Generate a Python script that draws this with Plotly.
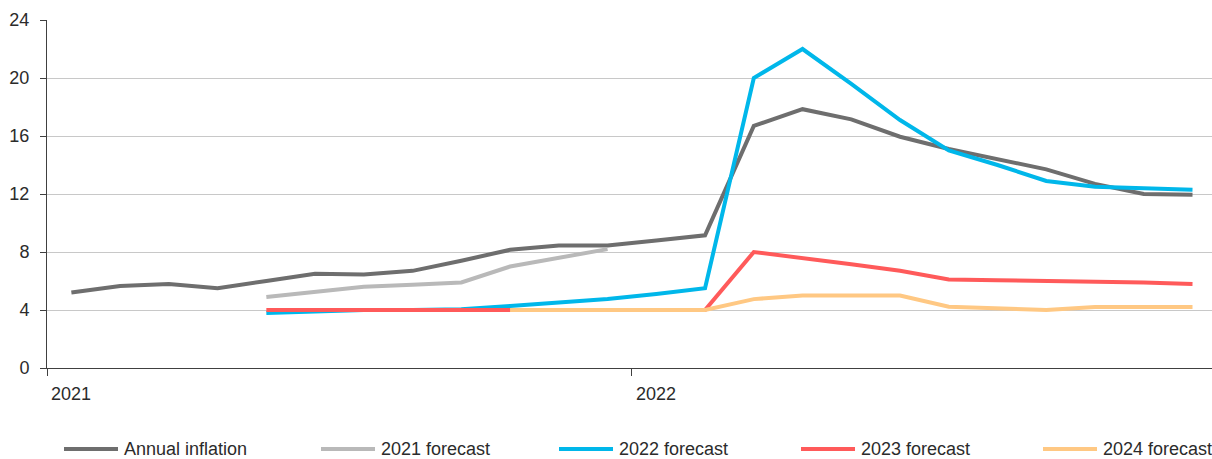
import plotly.graph_objects as go

# Monthly observations, January 2021 .. December 2022 (24 months)
month_index = list(range(24))
year_ticks = [0, 12]
year_labels = ["2021", "2022"]

annual_inflation = [5.2, 5.65, 5.8, 5.5, 6.0, 6.5, 6.45, 6.7, 7.4, 8.15, 8.45, 8.45,
                    8.8, 9.15, 16.7, 17.85, 17.15, 15.95, 15.1, 14.4, 13.7, 12.7, 12.0, 11.95]
forecast_2021 = [None] * 4 + [4.9, 5.25, 5.6, 5.75, 5.9, 7.0, 7.6, 8.2] + [None] * 12
forecast_2022 = [None] * 4 + [3.8, 3.9, 4.0, 4.0, 4.05, 4.28, 4.5, 4.76, 5.1, 5.5,
                              20.0, 22.0, 19.6, 17.1, 15.0, 14.0, 12.9, 12.5, 12.4, 12.3]
forecast_2023 = [None] * 4 + [4.0] * 10 + [8.0, 7.6, 7.15, 6.7, 6.1, 6.05, 6.0, 6.0, 5.9, 5.8]
forecast_2024 = [None] * 9 + [4.0] * 5 + [4.75, 5.0, 5.0, 5.0, 4.22, 4.1, 4.0, 4.2, 4.2, 4.2]

series_names = ["Annual inflation", "2021 forecast", "2022 forecast", "2023 forecast", "2024 forecast"]
series_values = [annual_inflation, forecast_2021, forecast_2022, forecast_2023, forecast_2024]
series_colors = ["#6e6e6e", "#b9b9b9", "#00b7ea", "#ff5a5a", "#ffc883"]

FONT = "Liberation Sans"
TEXT = "#2b2b2b"
AXIS = "#404040"

W, H = 1212, 459
ML, MR, MT, MB = 47, 0, 20, 91

# points sit in the middle of each month
x_pos = [m + 0.5 for m in month_index]

fig = go.Figure()
for name, vals, col in zip(series_names, series_values, series_colors):
    fig.add_trace(go.Scatter(
        x=x_pos, y=vals, name=name, mode="lines",
        line=dict(color=col, width=4),
        connectgaps=False, showlegend=False,
    ))

# legend drawn along the bottom: sample stroke + label
plot_w = W - ML - MR
plot_h = H - MT - MB


def px_to_paper_x(px):
    return (px - ML) / plot_w


def px_to_paper_y(py):
    return (H - MB - py) / plot_h


legend_starts = [64, 321, 559, 801, 1043]
legend_y = 449
shapes = []
annotations = []
for name, col, x0 in zip(series_names, series_colors, legend_starts):
    shapes.append(dict(
        type="line", xref="paper", yref="paper",
        x0=px_to_paper_x(x0), x1=px_to_paper_x(x0 + 54),
        y0=px_to_paper_y(legend_y), y1=px_to_paper_y(legend_y),
        line=dict(color=col, width=4),
    ))
    annotations.append(dict(
        text=name, xref="paper", yref="paper",
        x=px_to_paper_x(x0 + 58), y=px_to_paper_y(legend_y),
        xanchor="left", yanchor="middle", showarrow=False,
        font=dict(family=FONT, size=18, color=TEXT),
    ))

fig.update_layout(
    width=W, height=H,
    margin=dict(l=ML, r=MR, t=MT, b=MB, pad=0),
    paper_bgcolor="white", plot_bgcolor="white",
    font=dict(family=FONT, size=18, color=TEXT),
    shapes=shapes, annotations=annotations,
    xaxis=dict(
        range=[0, 23.9], tickmode="array", tickvals=year_ticks, ticktext=year_labels,
        ticks="outside", ticklen=7, tickwidth=1, tickcolor=AXIS,
        ticklabelshift=24, ticklabelstandoff=2,
        showline=True, linecolor=AXIS, linewidth=1,
        showgrid=False, zeroline=False,
        tickfont=dict(family=FONT, size=18, color=TEXT),
    ),
    yaxis=dict(
        range=[0, 24], tickmode="linear", tick0=0, dtick=4,
        ticks="outside", ticklen=6, tickwidth=1, tickcolor=AXIS,
        ticklabelstandoff=7,
        showline=True, linecolor=AXIS, linewidth=1,
        showgrid=True, gridcolor="#c8c8c8", gridwidth=1,
        zeroline=False,
        tickfont=dict(family=FONT, size=18, color=TEXT),
    ),
)

fig.write_html("out.html")
